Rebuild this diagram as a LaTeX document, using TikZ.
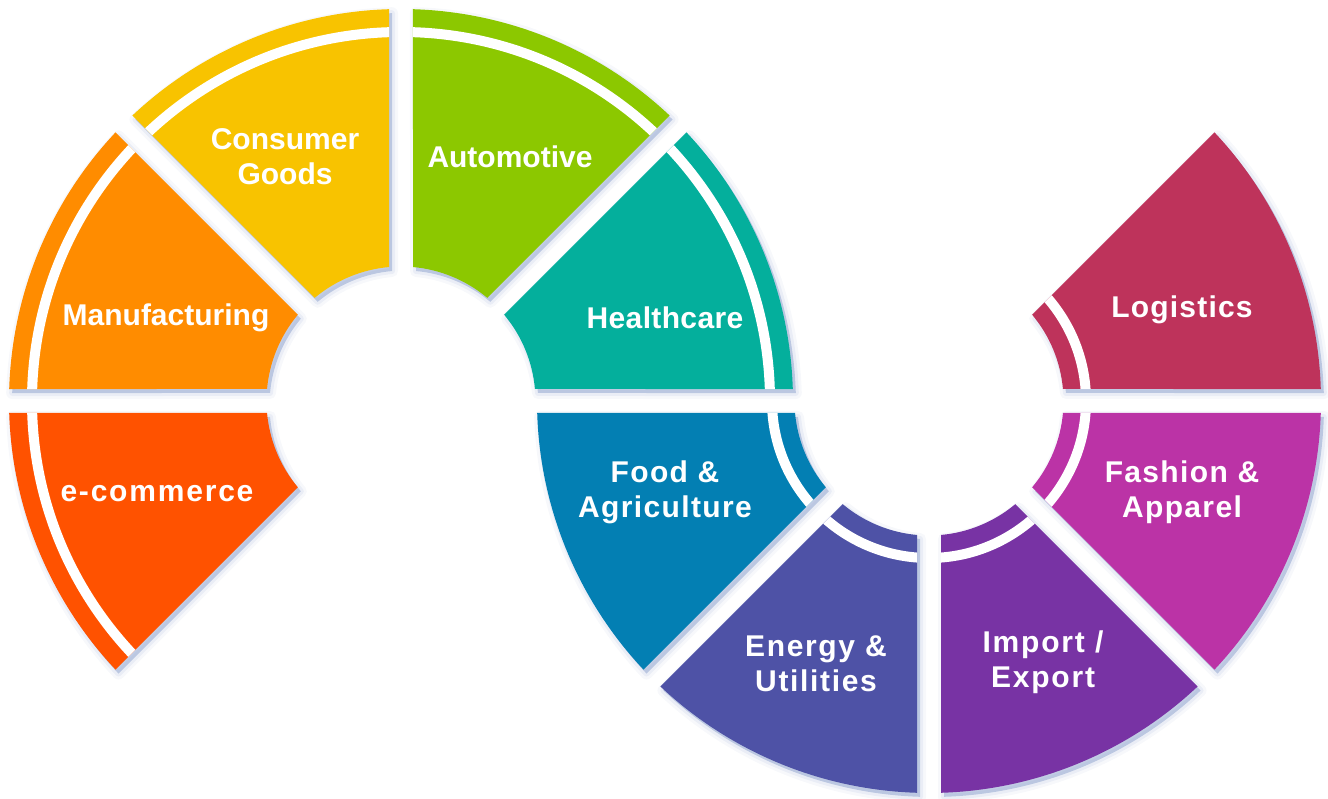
\documentclass[tikz,border=0pt]{standalone}
\usepackage{fontspec}
\setmainfont{Liberation Sans}
\usetikzlibrary{calc}
\definecolor{cEcom}{RGB}{255,82,0}
\definecolor{cManu}{RGB}{255,140,0}
\definecolor{cCons}{RGB}{248,195,0}
\definecolor{cAuto}{RGB}{140,200,0}
\definecolor{cHealth}{RGB}{4,175,156}
\definecolor{cFood}{RGB}{3,127,179}
\definecolor{cEnergy}{RGB}{78,82,166}
\definecolor{cImport}{RGB}{120,51,164}
\definecolor{cFashion}{RGB}{187,51,166}
\definecolor{cLog}{RGB}{190,51,91}
\definecolor{shadowcol}{RGB}{140,160,205}
\tikzset{
  seg/.style n args={5}{insert path={
    ($(#1)+({#2+asin(12/#4)}:#4pt)$) -- ($(#1)+({#2+asin(12/#5)}:#5pt)$)
    arc[start angle={#2+asin(12/#5)}, end angle={#3-asin(12/#5)}, radius=#5pt]
    -- ($(#1)+({#3-asin(12/#4)}:#4pt)$)
    arc[start angle={#3-asin(12/#4)}, end angle={#2+asin(12/#4)}, radius=#4pt]
    -- cycle}},
  lab/.style={text=white, font=\fontsize{30}{35}\selectfont\bfseries\addfontfeatures{LetterSpace=#1}, align=center, inner sep=0pt},
  lab/.default=0
}
\begin{document}
\begin{tikzpicture}[x=1pt,y=1pt]
\useasboundingbox (0,0) rectangle (1328,798);
\coordinate (c1) at (401,397);
\coordinate (c2) at (929,397);
\def\seglist{c1/180/225/369/cEcom, c1/135/180/369/cManu, c1/90/135/369/cCons, c1/45/90/369/cAuto, c1/0/45/369/cHealth,
 c2/-180/-135/157/cFood, c2/-135/-90/157/cEnergy, c2/-90/-45/157/cImport, c2/-45/0/157/cFashion, c2/0/45/157/cLog}
% soft shadows
\begin{scope}[transform canvas={shift={(3pt,-4pt)}}]
\foreach \ctr/\angA/\angB/\strad/\col in \seglist {
  \path[draw=shadowcol, draw opacity=0.07, line width=12pt, line join=round][seg={\ctr}{\angA}{\angB}{134.5}{392}];
  \path[draw=shadowcol, draw opacity=0.12, line width=6pt, line join=round][seg={\ctr}{\angA}{\angB}{134.5}{392}];
  \path[fill=shadowcol, fill opacity=0.5][seg={\ctr}{\angA}{\angB}{134.5}{392}];
}
\end{scope}
% segments
\foreach \ctr/\angA/\angB/\strad/\col in \seglist {
  \fill[\col][seg={\ctr}{\angA}{\angB}{134.5}{392}];
  \begin{scope}
    \clip[seg={\ctr}{\angA}{\angB}{134.5}{392}];
    \draw[white, line width=10pt] (\ctr) circle[radius=\strad pt];
  \end{scope}
}
% labels
\node[lab] (cons) at (285,641) {Consumer\\Goods};
\node[lab] (auto) at (510,641) {Automotive};
\node[lab] (manu) at (166,480) {Manufacturing};
\node[lab=1.2] (health) at (665,480) {Healthcare};
\node[lab=6] (ecom) at (157,304) {e-commerce};
\node[lab=4.5] (food) at (665,306) {Food \&\\Agriculture};
\node[lab=5.5] (energy) at (816,134) {Energy \&\\Utilities};
\node[lab=6] (import) at (1043,136) {Import /\\Export};
\node[lab=4.5] (fashion) at (1182,306) {Fashion \&\\Apparel};
\node[lab=4] (logi) at (1182,488) {Logistics};
\end{tikzpicture}
\end{document}
